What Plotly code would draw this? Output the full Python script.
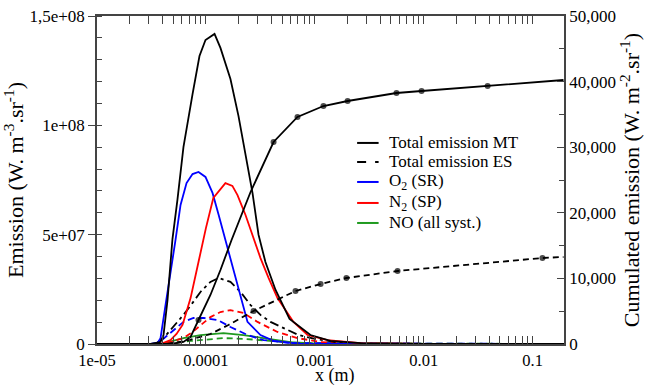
import plotly.graph_objects as go

# ---------------- data ----------------
# Total emission MT (left axis)
mt_x = [1e-5, 3.10e-5, 3.83e-5, 4.08e-5, 4.44e-5, 4.93e-5, 5.48e-5, 6.22e-5, 7.54e-5, 8.73e-5,
        9.91e-5, 1.20e-4, 1.36e-4, 1.68e-4, 1.99e-4, 2.31e-4, 2.68e-4, 3.04e-4, 3.52e-4, 4.36e-4,
        5.86e-4, 9.12e-4, 1.39e-3, 2.63e-3, 1e-2, 0.2]
mt_y = [0, 0, 0.9e6, 4.1e6, 2.0e7, 4.8e7, 6.6e7, 9.0e7, 1.143e8, 1.317e8,
        1.390e8, 1.418e8, 1.354e8, 1.212e8, 1.043e8, 8.6e7, 6.9e7, 5.0e7, 3.75e7, 2.47e7,
        1.15e7, 4.1e6, 1.4e6, 0.4e6, 0, 0]

# Total emission ES (left axis)
es_x = [1e-5, 3.44e-5, 4.08e-5, 5.04e-5, 6.22e-5, 7.54e-5, 8.91e-5, 1.10e-4, 1.31e-4, 1.68e-4,
        2.08e-4, 2.57e-4, 3.17e-4, 3.92e-4, 5.16e-4, 7.08e-4, 1.01e-3, 1.55e-3, 3e-3, 0.2]
es_y = [0, 0, 2.7e6, 7.8e6, 1.33e7, 1.88e7, 2.38e7, 2.84e7, 3.02e7, 2.84e7,
        2.38e7, 1.78e7, 1.33e7, 1.01e7, 7.3e6, 4.1e6, 2.3e6, 0.9e6, 0, 0]

# O2 (SR) MT / ES
o2_x = [1e-5, 3.10e-5, 3.60e-5, 3.83e-5, 4.26e-5, 4.73e-5, 5.26e-5, 5.85e-5, 6.64e-5, 7.54e-5,
        8.55e-5, 9.91e-5, 1.15e-4, 1.31e-4, 1.51e-4, 1.87e-4, 2.41e-4, 3.17e-4, 4.18e-4, 7.39e-4, 0.2]
o2_y = [0, 0, 0.5e6, 2.7e6, 1.79e7, 3.38e7, 4.76e7, 6.36e7, 7.36e7, 7.77e7,
        7.87e7, 7.64e7, 6.91e7, 5.90e7, 4.76e7, 2.93e7, 1.01e7, 4.1e6, 1.4e6, 0, 0]
o2es_x = [1e-5, 3.10e-5, 3.67e-5, 4.26e-5, 4.73e-5, 6.22e-5, 7.69e-5, 9.51e-5, 1.28e-4, 1.68e-4,
          2.41e-4, 3.38e-4, 5.98e-4, 0.2]
o2es_y = [0, 0, 0.5e6, 3.2e6, 5.5e6, 1.01e7, 1.19e7, 1.19e7, 1.10e7, 7.8e6,
          4.1e6, 1.8e6, 0.4e6, 0]

# N2 (SP) MT / ES
n2_x = [1e-5, 3.83e-5, 4.73e-5, 5.37e-5, 6.10e-5, 7.23e-5, 8.55e-5, 1.00e-4, 1.17e-4, 1.51e-4,
        1.75e-4, 1.95e-4, 2.31e-4, 2.74e-4, 3.17e-4, 3.76e-4, 4.54e-4, 6.37e-4, 8.57e-4, 1.31e-3,
        2.63e-3, 1e-2, 0.2]
n2_y = [0, 0, 1.8e6, 4.6e6, 8.7e6, 2.1e7, 3.75e7, 5.3e7, 6.68e7, 7.36e7,
        7.23e7, 6.81e7, 5.90e7, 4.85e7, 3.93e7, 3.02e7, 2.10e7, 1.01e7, 4.1e6, 1.8e6,
        0.4e6, 0, 0]
n2es_x = [1e-5, 3.83e-5, 4.73e-5, 6.22e-5, 7.54e-5, 8.91e-5, 1.10e-4, 1.36e-4, 1.68e-4, 2.21e-4,
          2.98e-4, 4.54e-4, 6.93e-4, 1.13e-3, 2.13e-3, 0.2]
n2es_y = [0, 0, 0.9e6, 2.7e6, 5.5e6, 8.7e6, 1.23e7, 1.46e7, 1.55e7, 1.42e7,
          1.01e7, 5.5e6, 2.7e6, 0.9e6, 0, 0]

# NO (all syst.) MT / ES
no_x = [1e-5, 3.83e-5, 6.22e-5, 8.91e-5, 1.45e-4, 2.21e-4, 3.38e-4, 5.98e-4, 1.13e-3, 0.2]
no_y = [0, 0, 2.7e6, 4.1e6, 5.0e6, 4.1e6, 2.7e6, 0.9e6, 0, 0]
noes_x = [1e-5, 4.26e-5, 7.23e-5, 1.06e-4, 1.45e-4, 2.31e-4, 3.92e-4, 7.39e-4, 0.2]
noes_y = [0, 0, 1.4e6, 2.3e6, 2.7e6, 2.3e6, 1.4e6, 0.4e6, 0]

# Cumulated emission (right axis)
cmt_x = [1e-5, 4.73e-5, 6.22e-5, 7.23e-5, 8.55e-5, 1.10e-4, 1.36e-4, 1.72e-4, 2.57e-4, 4.18e-4,
         6.93e-4, 1.20e-3, 2.00e-3, 5.62e-3, 9.55e-3, 3.86e-2, 0.192]
cmt_y = [0, 0, 305, 1067, 3659, 7470, 11280, 15854, 23171, 30793,
         34604, 36281, 37043, 38262, 38567, 39329, 40244]
cmt_dot = [0, 0, 0, 0, 1, 0, 0, 0, 0, 1,
           1, 1, 1, 1, 1, 1, 0]
ces_x = [1e-5, 4.26e-5, 6.50e-5, 1.10e-4, 1.61e-4, 2.74e-4, 6.65e-4, 1.13e-3, 1.95e-3, 5.75e-3,
         0.123, 0.192]
ces_y = [0, 0, 457, 1524, 2896, 5030, 8079, 9146, 10061, 11128,
         13110, 13262]
ces_dot = [0, 0, 0, 0, 0, 1, 1, 1, 1, 1,
           1, 0]

xticks = [1e-5, 1e-4, 1e-3, 1e-2, 1e-1]
xticktext = ["1e-05", "0.0001", "0.001", "0.01", "0.1"]
yticks = [0, 5e7, 1e8, 1.5e8]
yticktext = ["0", "5e+07", "1e+08", "1,5e+08"]
y2ticks = [0, 10000, 20000, 30000, 40000, 50000]
y2ticktext = ["0", "10,000", "20,000", "30,000", "40,000", "50,000"]

legend_names = ["Total emission MT", "Total emission ES", "O<sub>2</sub> (SR)",
                "N<sub>2</sub> (SP)", "NO (all syst.)"]
legend_colors = ["black", "black", "#0000ff", "#ff0000", "#1f9a1f"]
legend_dash = ["solid", "dash", "solid", "solid", "solid"]
legend_rows = [0.613, 0.555, 0.494, 0.430, 0.369]

BLUE, RED, GREEN = "#0000ff", "#ff0000", "#1f9a1f"
FONT = "Liberation Serif"

fig = go.Figure()

def add(x, y, color, dash="solid", width=1.8, axis="y"):
    fig.add_trace(go.Scatter(x=x, y=y, mode="lines", yaxis=axis, showlegend=False,
                             line=dict(color=color, width=width, dash=dash), hoverinfo="skip"))

add(no_x, no_y, GREEN)
add(noes_x, noes_y, GREEN, "6px,4px")
add(o2es_x, o2es_y, BLUE, "7px,4px")
add(n2es_x, n2es_y, RED, "6px,4px")
add(es_x, es_y, "black", "9px,4px,3px,4px")
add(o2_x, o2_y, BLUE)
add(n2_x, n2_y, RED)
add(mt_x, mt_y, "black")

fig.add_trace(go.Scatter(x=cmt_x, y=cmt_y, yaxis="y2", mode="lines+markers", showlegend=False,
                         line=dict(color="black", width=1.8),
                         marker=dict(color="black", size=[6 * d for d in cmt_dot],
                                     line=dict(width=0))))
fig.add_trace(go.Scatter(x=ces_x, y=ces_y, yaxis="y2", mode="lines+markers", showlegend=False,
                         line=dict(color="black", width=1.8, dash="6px,4px"),
                         marker=dict(color="black", size=[6 * d for d in ces_dot],
                                     line=dict(width=0))))

# manual legend
for n, c, d, ry in zip(legend_names, legend_colors, legend_dash, legend_rows):
    fig.add_shape(type="line", xref="paper", yref="paper", x0=0.557, x1=0.603, y0=ry, y1=ry,
                  line=dict(color=c, width=2, dash=d))
    fig.add_annotation(xref="paper", yref="paper", x=0.622, y=ry, text=n, showarrow=False,
                       xanchor="left", yanchor="middle", font=dict(size=17, family=FONT))

# x-axis title, sitting low at the bottom edge like the original
fig.add_annotation(xref="paper", yref="paper", x=0.51, y=-0.131, text="x (m)", showarrow=False,
                   xanchor="center", yanchor="bottom", borderpad=0,
                   font=dict(size=18, family=FONT))

minor_x = [m * 10.0 ** e for e in range(-5, 0) for m in range(2, 10)]
axcol = "#444444"

fig.update_layout(
    width=649, height=387,
    margin=dict(l=97, r=85, t=16, b=43, autoexpand=False),
    paper_bgcolor="white", plot_bgcolor="white",
    font=dict(family=FONT, size=17, color="black"),
    showlegend=False,
    xaxis=dict(type="log", range=[-5, -0.712], tickvals=xticks, ticktext=xticktext,
               ticks="inside", ticklen=8, tickwidth=1.3, tickcolor=axcol, ticklabelstandoff=0,
               tickfont=dict(size=16.5),
               showline=True, linecolor=axcol, linewidth=1.5, mirror="allticks",
               showgrid=False, zeroline=False, automargin=False,
               minor=dict(tickvals=minor_x, ticks="inside", ticklen=4, tickcolor=axcol, tickwidth=1.2,
                          showgrid=False)),
    yaxis=dict(range=[0, 1.5e8], tickvals=yticks, ticktext=yticktext,
               ticks="outside", ticklen=7, tickwidth=1.3, tickcolor=axcol,
               showline=True, linecolor=axcol, linewidth=1.5,
               showgrid=False, zeroline=False, automargin=False,
               minor=dict(dtick=1e7, tick0=0, ticks="inside", ticklen=5, tickcolor=axcol, tickwidth=1.2,
                          showgrid=False),
               title=dict(text="Emission (W. m<sup>-3</sup>.sr<sup>-1</sup>)", standoff=2,
                          font=dict(size=22))),
    yaxis2=dict(overlaying="y", side="right", range=[0, 50000], tickvals=y2ticks,
                ticktext=y2ticktext, ticks="inside", ticklen=7, tickwidth=1.3, tickcolor=axcol,
                showline=True, linecolor=axcol, linewidth=1.5,
                showgrid=False, zeroline=False, automargin=False,
                minor=dict(dtick=5000, tick0=0, ticks="inside", ticklen=5, tickcolor=axcol, tickwidth=1.2,
                           showgrid=False),
                title=dict(text="Cumulated emission (W. m<sup>-2</sup>.sr<sup>-1</sup>)", standoff=4,
                           font=dict(size=22))),
)

fig.write_html("out.html")
